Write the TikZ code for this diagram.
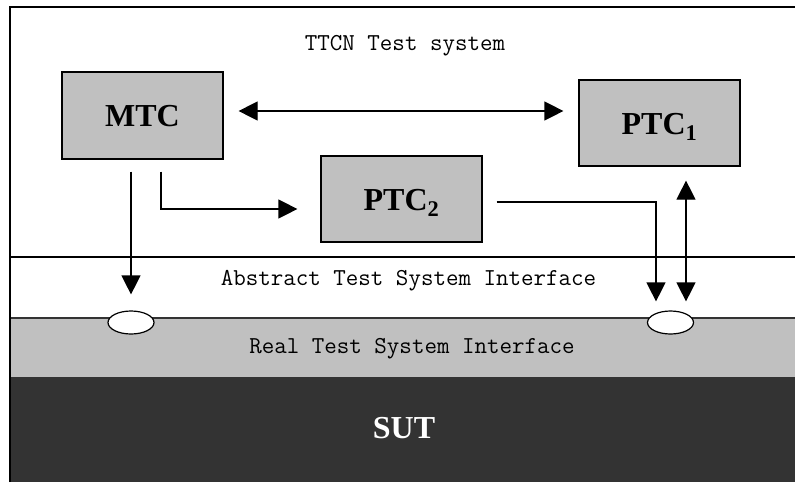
\documentclass[tikz,border=0pt]{standalone}
\usepackage{fontspec}
\setmainfont{Liberation Serif}
\usetikzlibrary{arrows.meta,shapes.geometric}

\definecolor{boxgray}{HTML}{C0C0C0}
\definecolor{sutgray}{HTML}{333333}

\tikzset{
 comp/.style={draw, line width=1.2pt, fill=boxgray, minimum width=161pt, minimum height=86pt,
   inner sep=0pt, text height=22pt, text depth=0pt, font=\fontsize{32}{38}\selectfont\bfseries},
 layertext/.style={anchor=base, font=\fontsize{24.3}{28}\selectfont\ttfamily},
 port/.style={draw, ellipse, line width=1.2pt, fill=white, minimum width=46pt, minimum height=23pt, inner sep=0pt},
 conn/.style={line width=1.2pt, -{Triangle[length=19pt,width=19pt]}},
 dconn/.style={line width=1.2pt, {Triangle[length=19pt,width=19pt]}-{Triangle[length=19pt,width=19pt]}},
}

\begin{document}
\begin{tikzpicture}[x=1pt,y=-1pt]
 \useasboundingbox (0,0) rectangle (795,483);

 % layers
 \fill[sutgray] (10,378) rectangle (795,482);
 \fill[boxgray] (10,318) rectangle (795,378);
 \draw[line width=1.5pt, black!80] (10,318) -- (795,318) (10,378) -- (795,378);
 \draw[line width=1.8pt] (10,257) -- (795,257);
 \draw[line width=1.2pt] (10,482) -- (10,7) -- (795,7);

 \node[layertext] (ttcn) at (405,50) {TTCN Test system};
 \node[layertext] (atsi) at (408.5,285) {Abstract Test System Interface};
 \node[layertext] (rtsi) at (412,353) {Real Test System Interface};
 \node[anchor=base, text=white, font=\fontsize{32}{38}\selectfont\bfseries] (sut) at (404,438) {SUT};

 % components
 \node[comp, minimum height=87pt] (mtc) at (142.5,115.5) {MTC};
 \node[comp] (ptc1) at (659.5,123) {PTC\textsubscript{1}};
 \node[comp] (ptc2) at (401.5,199) {PTC\textsubscript{2}};

 \node[port] (port1) at (131,322.5) {};
 \node[port] (port2) at (670.5,322.5) {};

 % connections
 \coordinate (mtcout) at ([shift={(15,-4.5)}]mtc.east);
 \draw[dconn, shorten >=15pt] (mtcout) -- (mtcout -| ptc1.west);
 \draw[conn] ([shift={(18.5,12)}]mtc.south) |- ([shift={(-23,10)}]ptc2.west);
 \draw[conn, shorten >=16pt] ([shift={(-11.5,12)}]mtc.south) -- (port1.north);
 \draw[conn] ([shift={(14,3)}]ptc2.east) -| ([shift={(-14.5,-9)}]port2.north);
 \coordinate (ptc1in) at ([shift={(26.5,14)}]ptc1.south);
 \draw[dconn, shorten >=9pt] (ptc1in) -- (ptc1in |- port2.north);
\end{tikzpicture}
\end{document}
